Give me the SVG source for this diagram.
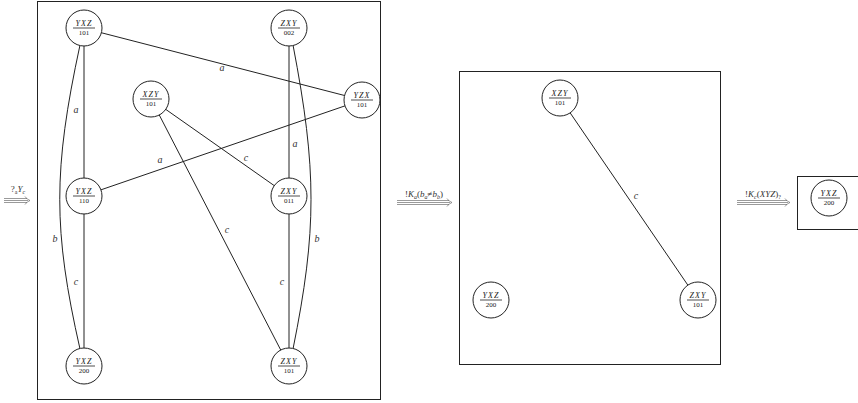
<svg xmlns="http://www.w3.org/2000/svg" width="858" height="403" viewBox="0 0 858 403">
<style>
.box{fill:none;stroke:#222;stroke-width:1}
.e{fill:none;stroke:#222;stroke-width:1}
.n circle{fill:#fff;stroke:#222;stroke-width:1}
.n line{stroke:#222;stroke-width:0.8}
.t{font-family:"Liberation Serif",serif;font-style:italic;font-size:8px;letter-spacing:1px;fill:#222;text-anchor:middle}
.d{font-family:"Liberation Serif",serif;font-size:7px;fill:#222;text-anchor:middle}
.l{font-family:"Liberation Serif",serif;font-style:italic;font-size:10px;fill:#333;text-anchor:middle}
.al{font-family:"Liberation Serif",serif;font-size:9px;fill:#333;text-anchor:middle}
.ar{fill:none;stroke:#555;stroke-width:0.6}
</style>
<rect class="box" x="37.5" y="1.5" width="343" height="398"/>
<rect class="box" x="459.5" y="71.5" width="261" height="293"/>
<rect class="box" x="797.5" y="176.5" width="80" height="53"/>
<g id="arrows">
<path class="ar" d="M4,198.5 H27 M4,200.5 H28 M4,202.5 H27 M25,196.5 Q27,199.5 30,200.5 Q27,201.5 25,204.5"/>
<text class="al" x="18" y="192">?<tspan font-size="6" dy="2">a</tspan><tspan font-style="italic" dy="-2">Y</tspan><tspan font-size="6" font-style="italic" dy="2">c</tspan></text>
<path class="ar" d="M397,200.5 H449 M397,202.5 H450 M397,204.5 H449 M447,198.5 Q449,201.5 452,202.5 Q449,203.5 447,206.5"/>
<text class="al" x="424" y="197">!<tspan font-style="italic">K</tspan><tspan font-size="6" font-style="italic" dy="2">a</tspan><tspan dy="-2">(</tspan><tspan font-style="italic">b</tspan><tspan font-size="6" font-style="italic" dy="2">a</tspan><tspan dy="-2">≠</tspan><tspan font-style="italic">b</tspan><tspan font-size="6" font-style="italic" dy="2">b</tspan><tspan dy="-2">)</tspan></text>
<path class="ar" d="M737,200.5 H787 M737,202.5 H788 M737,204.5 H787 M785,198.5 Q787,201.5 790,202.5 Q787,203.5 785,206.5"/>
<text class="al" x="763" y="197">!<tspan font-style="italic">K</tspan><tspan font-size="6" font-style="italic" dy="2">c</tspan><tspan dy="-2">(</tspan><tspan font-style="italic">XYZ</tspan><tspan>)</tspan><tspan font-size="6" dy="2">?</tspan></text>
</g>
<g id="connectors">
<line class="e" x1="83" y1="28" x2="362" y2="100"/>
<line class="e" x1="84" y1="28" x2="84" y2="196"/>
<path class="e" d="M80,45 C53,170 53,230 80,349"/>
<line class="e" x1="83" y1="196" x2="362" y2="100"/>
<line class="e" x1="84" y1="196" x2="84" y2="366"/>
<line class="e" x1="289" y1="28" x2="289" y2="196"/>
<path class="e" d="M293,45 C317,170 317,230 293,349"/>
<line class="e" x1="289" y1="196" x2="289" y2="366"/>
<line class="e" x1="151" y1="99" x2="289" y2="196"/>
<line class="e" x1="151" y1="99" x2="289" y2="366"/>
<line class="e" x1="560" y1="98" x2="698" y2="300"/>
<text class="l" x="222" y="71">a</text>
<text class="l" x="76" y="113">a</text>
<text class="l" x="160" y="163">a</text>
<text class="l" x="246" y="161">c</text>
<text class="l" x="295" y="147">a</text>
<text class="l" x="227" y="233">c</text>
<text class="l" x="55" y="242">b</text>
<text class="l" x="317" y="242">b</text>
<text class="l" x="76" y="285">c</text>
<text class="l" x="282" y="285">c</text>
<text class="l" x="636" y="199">c</text>
</g>
<g id="n1" class="n" transform="translate(84,28)"><circle r="18"/><text class="t" y="-2">YXZ</text><line x1="-11" y1="0" x2="11" y2="0"/><text class="d" y="7">101</text></g>
<g id="n2" class="n" transform="translate(289,28)"><circle r="18"/><text class="t" y="-2">ZXY</text><line x1="-11" y1="0" x2="11" y2="0"/><text class="d" y="7">002</text></g>
<g id="n3" class="n" transform="translate(151,99)"><circle r="18"/><text class="t" y="-2">XZY</text><line x1="-11" y1="0" x2="11" y2="0"/><text class="d" y="7">101</text></g>
<g id="n4" class="n" transform="translate(362,100)"><circle r="18"/><text class="t" y="-2">YZX</text><line x1="-11" y1="0" x2="11" y2="0"/><text class="d" y="7">101</text></g>
<g id="n5" class="n" transform="translate(84,196)"><circle r="18"/><text class="t" y="-2">YXZ</text><line x1="-11" y1="0" x2="11" y2="0"/><text class="d" y="7">110</text></g>
<g id="n6" class="n" transform="translate(289,196)"><circle r="18"/><text class="t" y="-2">ZXY</text><line x1="-11" y1="0" x2="11" y2="0"/><text class="d" y="7">011</text></g>
<g id="n7" class="n" transform="translate(84,366)"><circle r="18"/><text class="t" y="-2">YXZ</text><line x1="-11" y1="0" x2="11" y2="0"/><text class="d" y="7">200</text></g>
<g id="n8" class="n" transform="translate(289,366)"><circle r="18"/><text class="t" y="-2">ZXY</text><line x1="-11" y1="0" x2="11" y2="0"/><text class="d" y="7">101</text></g>
<g id="m1" class="n" transform="translate(560,98)"><circle r="18"/><text class="t" y="-2">XZY</text><line x1="-11" y1="0" x2="11" y2="0"/><text class="d" y="7">101</text></g>
<g id="m2" class="n" transform="translate(491,300)"><circle r="18"/><text class="t" y="-2">YXZ</text><line x1="-11" y1="0" x2="11" y2="0"/><text class="d" y="7">200</text></g>
<g id="m3" class="n" transform="translate(698,300)"><circle r="18"/><text class="t" y="-2">ZXY</text><line x1="-11" y1="0" x2="11" y2="0"/><text class="d" y="7">101</text></g>
<g id="k1" class="n" transform="translate(829,198)"><circle r="18"/><text class="t" y="-2">YXZ</text><line x1="-11" y1="0" x2="11" y2="0"/><text class="d" y="7">200</text></g>
</svg>
